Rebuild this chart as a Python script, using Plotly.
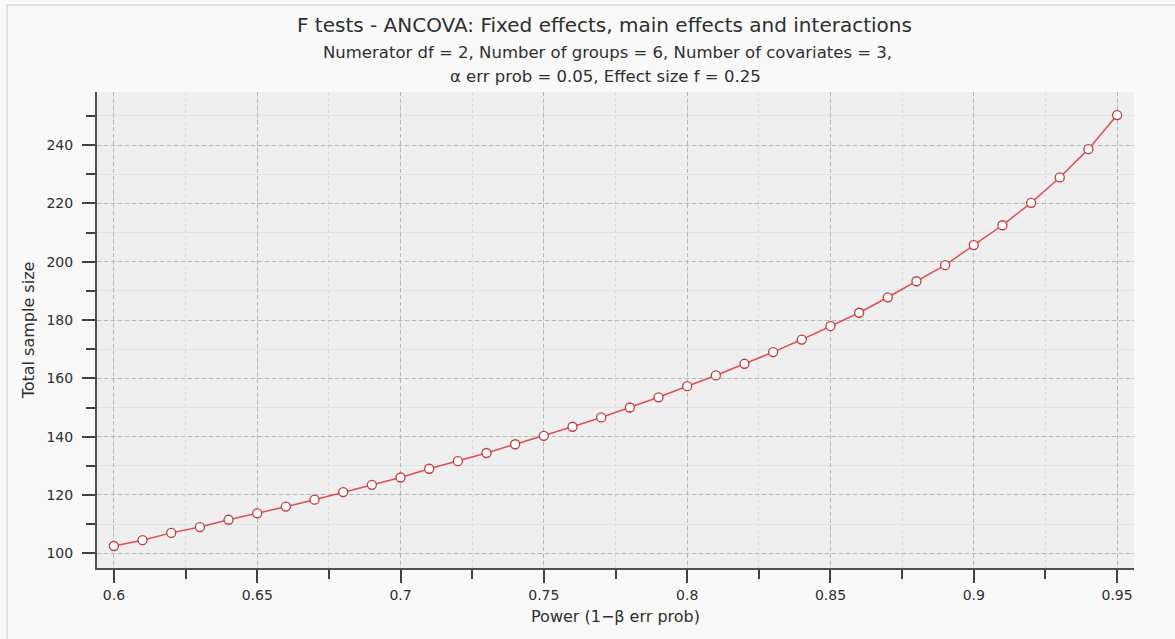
import plotly.graph_objects as go

power = [0.60, 0.61, 0.62, 0.63, 0.64, 0.65, 0.66, 0.67, 0.68, 0.69,
         0.70, 0.71, 0.72, 0.73, 0.74, 0.75, 0.76, 0.77, 0.78, 0.79,
         0.80, 0.81, 0.82, 0.83, 0.84, 0.85, 0.86, 0.87, 0.88, 0.89,
         0.90, 0.91, 0.92, 0.93, 0.94, 0.95]
total_n = [102.5, 104.5, 107, 109, 111.5, 113.7, 116, 118.4, 121, 123.5,
           126, 129, 131.6, 134.4, 137.4, 140.3, 143.4, 146.6, 150, 153.5,
           157.3, 161, 165, 169, 173.3, 177.9, 182.5, 187.8, 193.3, 198.8,
           205.7, 212.5, 220.2, 228.9, 238.6, 250.3]

x_ticks = [0.6, 0.65, 0.7, 0.75, 0.8, 0.85, 0.9, 0.95]
x_ticklabels = ["0.6", "0.65", "0.7", "0.75", "0.8", "0.85", "0.9", "0.95"]
y_ticks = [100, 120, 140, 160, 180, 200, 220, 240]

title_main = "F tests - ANCOVA: Fixed effects, main effects and interactions"
title_sub1 = "Numerator df = 2, Number of groups = 6, Number of covariates = 3,"
title_sub2 = "α err prob = 0.05, Effect size f = 0.25"

FONT = "DejaVu Sans"
TXT = "#2e2e2e"

fig = go.Figure()
fig.add_trace(go.Scatter(
    x=power, y=total_n, mode="lines+markers",
    line=dict(color="#dc4f4f", width=1.5),
    marker=dict(symbol="circle", size=9, color="white",
                line=dict(color="#c23a3a", width=1.3)),
    showlegend=False, hoverinfo="x+y",
))

axis_common = dict(
    showline=True, linecolor="#505050", linewidth=2,
    ticks="outside", tickcolor="#404040", tickwidth=2, ticklen=13,
    gridcolor="#b8b8b8", griddash="4px,3px", gridwidth=1,
    zeroline=False, mirror=False,
    tickfont=dict(family=FONT, size=14, color=TXT),
)

fig.update_xaxes(
    **axis_common,
    range=[0.5941, 0.9559],
    tickvals=x_ticks, ticktext=x_ticklabels,
    minor=dict(dtick=0.025, tick0=0.6, ticks="outside", ticklen=9,
               tickcolor="#404040", tickwidth=2,
               showgrid=True, gridcolor="#dadada", griddash="dot", gridwidth=1),
    title=dict(text="Power (1−β err prob)",
               font=dict(family=FONT, size=16, color=TXT), standoff=9),
)
fig.update_yaxes(
    **axis_common,
    range=[94.96, 258.2],
    tickvals=y_ticks,
    ticklabelstandoff=6,
    minor=dict(dtick=10, tick0=100, ticks="outside", ticklen=9,
               tickcolor="#404040", tickwidth=2,
               showgrid=True, gridcolor="#e3e3e3", griddash="solid", gridwidth=1),
    title=dict(text="Total sample size",
               font=dict(family=FONT, size=16, color=TXT), standoff=8),
)

W, H = 1175, 639
L, R, T, B = 97, 41, 92, 71
pw, ph = W - L - R, H - T - B


def px(xp):
    return (xp - L) / pw


def py(yp):
    return (H - B - yp) / ph


fig.update_layout(
    width=W, height=H,
    margin=dict(l=L, r=R, t=T, b=B),
    paper_bgcolor="#f9f9f9",
    plot_bgcolor="#efefef",
    font=dict(family=FONT, color=TXT),
)

fig.add_annotation(text=title_main, x=px(604), y=py(25), xref="paper", yref="paper",
                   showarrow=False, xanchor="center", yanchor="middle",
                   font=dict(family=FONT, size=20, color=TXT))
fig.add_annotation(text=title_sub1, x=px(607), y=py(52), xref="paper", yref="paper",
                   showarrow=False, xanchor="center", yanchor="middle",
                   font=dict(family=FONT, size=16.5, color=TXT))
fig.add_annotation(text=title_sub2, x=px(605), y=py(77), xref="paper", yref="paper",
                   showarrow=False, xanchor="center", yanchor="middle",
                   font=dict(family=FONT, size=16.5, color=TXT))

# outer frame lines (top and left)
fig.add_shape(type="line", xref="paper", yref="paper",
              x0=px(7), x1=px(1175), y0=py(5), y1=py(5),
              line=dict(color="#c8c8c8", width=1), layer="below")
fig.add_shape(type="line", xref="paper", yref="paper",
              x0=px(7), x1=px(7), y0=py(5), y1=py(639),
              line=dict(color="#c8c8c8", width=1), layer="below")

fig.write_html("out.html")
